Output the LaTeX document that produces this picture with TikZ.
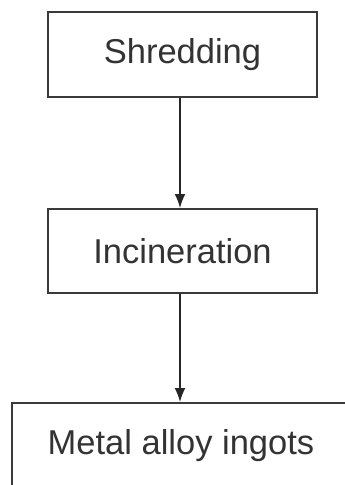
\documentclass[tikz,border=0pt]{standalone}
\usepackage{fontspec}
\setmainfont{Liberation Sans}
\usetikzlibrary{arrows.meta}
\definecolor{boxline}{HTML}{3A3A3A}
\definecolor{txt}{HTML}{333333}
\tikzset{
  stepbox/.style={draw=boxline, line width=2pt, minimum width=269pt, inner sep=0pt, font=\fontsize{34.5}{40}\selectfont, text=txt},
  flow/.style={draw=black!85, line width=1.6pt, -{Latex[length=14pt,width=11pt]}}
}
\begin{document}
\begin{tikzpicture}[x=1pt,y=-1pt]
\useasboundingbox (0,0) rectangle (345,485);
\clip (0,0) rectangle (345,485);
\node[stepbox, minimum height=85pt] (a) at (182.5,54.5) {Shredding};
\node[stepbox, minimum height=84pt] (b) at (182.5,251) {Incineration};
\node[stepbox, minimum width=338pt, minimum height=88pt, text depth=0pt] (c) at (181,447) {};
\node[font=\fontsize{34.5}{40}\selectfont, text=txt] (ct) at (181,446) {Metal alloy ingots};
\draw[flow] (a.south -| 180,0) -- (b.north -| 180,0);
\draw[flow] (b.south -| 180,0) -- (c.north -| 180,0);
\end{tikzpicture}
\end{document}
